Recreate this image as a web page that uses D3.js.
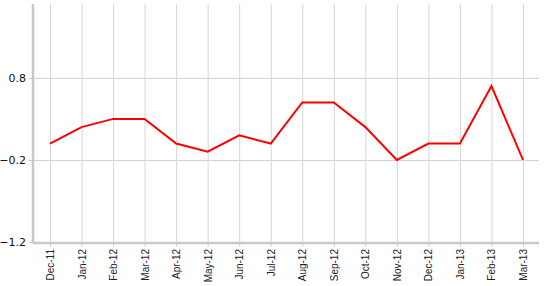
<!DOCTYPE html>
<html>
<head>
<meta charset="utf-8">
<script src="https://cdn.jsdelivr.net/npm/d3@7"></script>
<style>
  body { margin: 0; background: #fff; }
</style>
</head>
<body>
<div id="chart"></div>
<script>
const months = ["Dec-11", "Jan-12", "Feb-12", "Mar-12", "Apr-12", "May-12", "Jun-12", "Jul-12",
  "Aug-12", "Sep-12", "Oct-12", "Nov-12", "Dec-12", "Jan-13", "Feb-13", "Mar-13"];
const values = [0.0, 0.2, 0.3, 0.3, 0.0, -0.1, 0.1, 0.0, 0.5, 0.5, 0.2, -0.2, 0.0, 0.0, 0.7, -0.2];
const yTicks = [-1.2, -0.2, 0.8];

const width = 552, height = 286;
const margin = { top: 4, right: 13, bottom: 44, left: 33 };

const svg = d3.select("#chart").append("svg")
  .attr("width", width)
  .attr("height", height);

const x = d3.scalePoint()
  .domain(months)
  .range([margin.left + 17, width - margin.right - 16]);

const y = d3.scaleLinear()
  .domain([-1.2, 1.7])
  .range([height - margin.bottom, margin.top]);

// horizontal grid
svg.append("g")
  .attr("transform", `translate(${margin.left},0)`)
  .call(d3.axisLeft(y).tickValues(yTicks).tickSize(-(width - margin.right - margin.left)).tickFormat(""))
  .call(g => g.select(".domain").remove())
  .selectAll("line").attr("stroke", "#cfcfcf");

// vertical grid + x labels
const xAxis = svg.append("g")
  .attr("transform", `translate(0,${height - margin.bottom})`)
  .call(d3.axisBottom(x).tickSize(5))
  .call(g => g.select(".domain").remove());
xAxis.selectAll(".tick line")
  .attr("stroke", "#d6d6d6")
  .attr("y1", -(height - margin.bottom - margin.top));
xAxis.selectAll("text")
  .attr("transform", "rotate(-90)")
  .attr("text-anchor", "end")
  .attr("x", -7)
  .attr("y", 0)
  .attr("dy", "0.35em")
  .attr("font-family", "'Liberation Sans', Arial, sans-serif")
  .attr("font-size", 10)
  .attr("fill", "#222");

// y axis
const yAxis = svg.append("g")
  .attr("transform", `translate(${margin.left},0)`)
  .call(d3.axisLeft(y).tickValues(yTicks).tickSize(4).tickPadding(3).tickFormat(d3.format(".1f")))
  .call(g => g.select(".domain").remove());
yAxis.selectAll("line").attr("stroke", "#c8c8c8");
yAxis.selectAll("text")
  .attr("font-family", "'DejaVu Sans', Verdana, sans-serif")
  .attr("font-size", 11)
  .attr("fill", "#111");

// axis lines
svg.append("line")
  .attr("x1", margin.left).attr("x2", margin.left)
  .attr("y1", margin.top).attr("y2", height - margin.bottom + 1)
  .attr("stroke", "#c8c8c8").attr("stroke-width", 2.5);
svg.append("line")
  .attr("x1", margin.left).attr("x2", width - margin.right)
  .attr("y1", height - margin.bottom + 1).attr("y2", height - margin.bottom + 1)
  .attr("stroke", "#c8c8c8").attr("stroke-width", 2.5);

// series
const line = d3.line()
  .x((d, i) => x(months[i]))
  .y(d => y(d));

svg.append("path")
  .datum(values)
  .attr("fill", "none")
  .attr("stroke", "#ff0000")
  .attr("stroke-width", 2)
  .attr("d", line);
</script>
</body>
</html>
